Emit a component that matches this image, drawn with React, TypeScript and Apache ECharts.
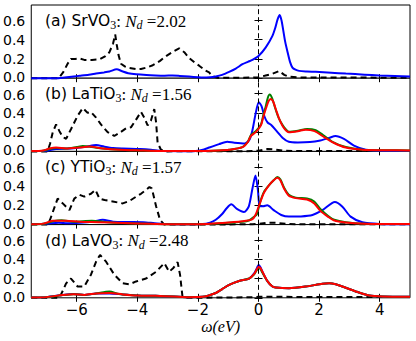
import React, { useEffect, useRef } from "react";
import * as echarts from "echarts";

const X_TICKS = [-6, -4, -2, 0, 2, 4];
const Y_TICKS = [0, 0.2, 0.4, 0.6];
const LETTERS = ["a", "b", "c", "d"];
const COMPOUNDS = ["SrVO", "LaTiO", "YTiO", "LaVO"];
const COMPOUND_SUBS = ["3", "3", "3", "3"];
const ND_VALUES = ["2.02", "1.56", "1.57", "2.48"];

// (a) SrVO3
const srvoDashed = [[-7.5,0],[-6.6,0],[-6.45,0.06],[-6.3,0.15],[-6.19,0.2],[-6.05,0.2],[-5.91,0.205],[-5.75,0.19],[-5.5,0.19],[-5.25,0.195],[-5.05,0.23],[-4.92,0.27],[-4.8,0.36],[-4.73,0.455],[-4.68,0.35],[-4.62,0.24],[-4.54,0.15],[-4.4,0.12],[-4.26,0.105],[-4.05,0.095],[-3.88,0.095],[-3.7,0.11],[-3.49,0.135],[-3.25,0.18],[-3.05,0.23],[-2.8,0.28],[-2.62,0.31],[-2.45,0.27],[-2.29,0.21],[-2.1,0.16],[-1.96,0.13],[-1.75,0.08],[-1.63,0.06],[-1.52,0.02],[-1.35,0.005],[-0.5,0.005],[0,0.01],[0.2,0.025],[0.45,0.045],[0.68,0.075],[0.85,0.035],[1.0,0.015],[1.4,0.008],[5,0.005]];
const srvoBlue = [[-7.5,0],[-6.6,0],[-6.4,0.007],[-6.1,0.018],[-5.9,0.025],[-5.6,0.036],[-5.36,0.048],[-5.1,0.06],[-4.92,0.07],[-4.68,0.093],[-4.5,0.072],[-4.3,0.052],[-4.04,0.04],[-3.7,0.032],[-3.4,0.028],[-3.1,0.026],[-2.84,0.028],[-2.6,0.024],[-2.29,0.017],[-2.0,0.01],[-1.85,0.007],[-1.6,0.01],[-1.41,0.018],[-1.2,0.035],[-0.97,0.066],[-0.75,0.1],[-0.53,0.145],[-0.35,0.17],[-0.2,0.19],[0,0.23],[0.24,0.32],[0.46,0.44],[0.56,0.53],[0.63,0.61],[0.7,0.655],[0.76,0.6],[0.81,0.51],[0.88,0.38],[0.96,0.27],[1.04,0.17],[1.12,0.11],[1.22,0.088],[1.34,0.076],[1.6,0.07],[1.89,0.066],[2.4,0.057],[2.88,0.048],[3.5,0.037],[3.98,0.028],[4.5,0.022],[5,0.017]];

// (b) LaTiO3
const latioDashed = [[-7.5,0],[-6.96,0],[-6.88,0.08],[-6.79,0.2],[-6.68,0.28],[-6.57,0.21],[-6.46,0.15],[-6.35,0.13],[-6.19,0.23],[-6.08,0.3],[-5.97,0.37],[-5.8,0.45],[-5.64,0.4],[-5.53,0.41],[-5.36,0.35],[-5.2,0.28],[-4.98,0.2],[-4.76,0.16],[-4.6,0.19],[-4.37,0.24],[-4.21,0.25],[-4.04,0.33],[-3.88,0.41],[-3.77,0.35],[-3.66,0.27],[-3.55,0.32],[-3.44,0.44],[-3.38,0.3],[-3.33,0.09],[-3.22,0.017],[-3.1,0],[-0.2,0.003],[0,0.008],[0.3,0.025],[0.55,0.02],[0.8,0.008],[1.2,0.004],[5,0.003]];
const latioBlue = [[-7.5,0.003],[-7.0,0.006],[-6.68,0.025],[-6.2,0.03],[-5.69,0.048],[-5.36,0.066],[-5.1,0.05],[-4.8,0.035],[-4.48,0.03],[-3.9,0.025],[-3.55,0.017],[-3.2,0.003],[-2.5,0.002],[-2.07,0.005],[-1.8,0.02],[-1.63,0.04],[-1.3,0.076],[-1.03,0.1],[-0.8,0.09],[-0.45,0.082],[-0.3,0.12],[-0.2,0.22],[-0.09,0.4],[0.01,0.51],[0.1,0.47],[0.2,0.36],[0.3,0.3],[0.42,0.275],[0.6,0.21],[0.8,0.14],[1.0,0.1],[1.3,0.093],[1.7,0.097],[2.0,0.11],[2.33,0.14],[2.54,0.16],[2.82,0.13],[3.15,0.06],[3.54,0.017],[4.1,0.005],[5,0.003]];
const latioGreen = [[-7.5,0.003],[-7.1,0.008],[-6.9,0.025],[-6.68,0.035],[-6.35,0.03],[-6.0,0.045],[-5.8,0.055],[-5.5,0.045],[-5.14,0.03],[-4.6,0.017],[-3.9,0.01],[-3.3,0.005],[-2.0,0.004],[-1.3,0.01],[-0.97,0.017],[-0.53,0.045],[-0.35,0.1],[-0.25,0.17],[-0.09,0.21],[0.08,0.28],[0.16,0.38],[0.24,0.47],[0.31,0.56],[0.37,0.59],[0.45,0.55],[0.56,0.44],[0.66,0.35],[0.8,0.27],[0.9,0.23],[1.0,0.205],[1.3,0.215],[1.6,0.232],[1.89,0.22],[2.11,0.175],[2.44,0.1],[2.88,0.045],[3.43,0.018],[4.2,0.012],[5,0.01]];
const latioRed = [[-7.5,0.003],[-7.1,0.01],[-6.9,0.03],[-6.68,0.04],[-6.35,0.03],[-5.91,0.04],[-5.58,0.05],[-5.14,0.03],[-4.6,0.017],[-3.9,0.01],[-3.3,0.005],[-2.0,0.004],[-1.3,0.01],[-0.97,0.017],[-0.53,0.045],[-0.35,0.1],[-0.25,0.16],[-0.09,0.2],[0.08,0.27],[0.16,0.36],[0.25,0.45],[0.33,0.52],[0.4,0.545],[0.48,0.52],[0.58,0.43],[0.68,0.34],[0.8,0.26],[0.9,0.22],[1.0,0.2],[1.3,0.21],[1.55,0.225],[1.85,0.21],[2.11,0.16],[2.48,0.09],[2.88,0.04],[3.43,0.017],[4.2,0.012],[5,0.01]];

// (c) YTiO3
const ytioDashed = [[-7.5,0],[-6.96,0],[-6.88,0.05],[-6.79,0.13],[-6.63,0.27],[-6.46,0.22],[-6.24,0.15],[-6.08,0.27],[-5.91,0.31],[-5.75,0.29],[-5.53,0.32],[-5.38,0.36],[-5.25,0.27],[-5.08,0.255],[-4.81,0.24],[-4.48,0.22],[-4.26,0.245],[-4.04,0.29],[-3.88,0.32],[-3.71,0.36],[-3.6,0.39],[-3.52,0.375],[-3.38,0.19],[-3.25,0.05],[-3.11,0],[-0.2,0.003],[0,0.008],[0.3,0.02],[0.6,0.018],[0.9,0.008],[1.3,0.004],[5,0.003]];
const ytioBlue = [[-7.5,0.005],[-7.0,0.01],[-6.6,0.02],[-6.3,0.015],[-5.9,0.02],[-5.5,0.03],[-5.14,0.05],[-4.8,0.03],[-4.3,0.027],[-3.8,0.025],[-3.43,0.015],[-3.0,0.005],[-2.3,0.003],[-1.85,0.005],[-1.6,0.02],[-1.41,0.05],[-1.2,0.11],[-1.05,0.17],[-0.9,0.21],[-0.7,0.16],[-0.48,0.13],[-0.32,0.19],[-0.2,0.375],[-0.1,0.51],[-0.02,0.36],[0.04,0.19],[0.15,0.19],[0.29,0.2],[0.5,0.15],[0.75,0.1],[1.0,0.083],[1.4,0.085],[1.78,0.1],[2.11,0.15],[2.52,0.234],[2.77,0.186],[3.04,0.083],[3.43,0.024],[4.0,0.007],[5,0.003]];
const ytioGreen = [[-7.5,0.003],[-7.1,0.008],[-6.79,0.035],[-6.5,0.045],[-6.1,0.03],[-5.5,0.04],[-5.0,0.025],[-4.5,0.017],[-3.6,0.008],[-3.0,0.004],[-2.0,0.004],[-1.19,0.015],[-0.53,0.03],[-0.3,0.045],[-0.15,0.08],[-0.05,0.11],[0.05,0.23],[0.18,0.34],[0.35,0.41],[0.5,0.46],[0.62,0.495],[0.72,0.47],[0.85,0.38],[1.0,0.31],[1.23,0.28],[1.6,0.27],[1.84,0.24],[2.05,0.16],[2.3,0.09],[2.5,0.05],[2.88,0.025],[3.5,0.01],[5,0.005]];
const ytioRed = [[-7.5,0.003],[-7.1,0.01],[-6.79,0.04],[-6.35,0.04],[-5.91,0.03],[-5.3,0.025],[-4.5,0.017],[-3.6,0.008],[-3.0,0.004],[-2.0,0.004],[-1.19,0.017],[-0.53,0.035],[-0.21,0.055],[-0.1,0.1],[0.02,0.2],[0.18,0.33],[0.35,0.41],[0.5,0.46],[0.62,0.486],[0.72,0.46],[0.85,0.37],[1.0,0.3],[1.23,0.275],[1.6,0.26],[1.84,0.22],[2.05,0.14],[2.3,0.08],[2.48,0.045],[2.88,0.022],[3.5,0.01],[5,0.005]];

// (d) LaVO3
const lavoDashed = [[-7.5,0],[-6.57,0],[-6.45,0.08],[-6.35,0.15],[-6.19,0.2],[-5.97,0.117],[-5.75,0.117],[-5.53,0.24],[-5.36,0.375],[-5.23,0.445],[-5.03,0.375],[-4.76,0.24],[-4.48,0.15],[-4.26,0.14],[-4.04,0.17],[-3.71,0.2],[-3.38,0.27],[-3.11,0.36],[-2.95,0.27],[-2.81,0.31],[-2.67,0.37],[-2.59,0.24],[-2.51,0.015],[-2.4,0],[-0.3,0.005],[0,0.01],[0.5,0.012],[1.5,0.008],[5,0.008]];
const lavoBlue = [[-7.5,0.003],[-7.0,0.007],[-6.46,0.03],[-6.1,0.04],[-5.75,0.03],[-5.36,0.045],[-4.92,0.045],[-4.48,0.035],[-4.0,0.024],[-3.4,0.02],[-2.8,0.014],[-2.3,0.007],[-1.85,0.01],[-1.41,0.05],[-1.2,0.09],[-0.97,0.135],[-0.64,0.175],[-0.31,0.2],[-0.15,0.25],[-0.05,0.31],[0.0,0.34],[0.06,0.32],[0.13,0.27],[0.3,0.17],[0.45,0.12],[0.57,0.107],[1.01,0.1],[1.56,0.117],[2.11,0.145],[2.33,0.15],[2.55,0.14],[2.77,0.117],[3.21,0.066],[3.65,0.024],[4.09,0.014],[5,0.01]];
const lavoGreen = [[-7.5,0.003],[-7.0,0.007],[-6.46,0.028],[-6.1,0.038],[-5.75,0.03],[-5.36,0.045],[-4.92,0.065],[-4.6,0.04],[-4.0,0.024],[-3.4,0.02],[-2.8,0.014],[-2.3,0.007],[-1.85,0.01],[-1.41,0.05],[-1.2,0.09],[-0.97,0.135],[-0.64,0.175],[-0.31,0.2],[-0.15,0.24],[-0.05,0.29],[0.0,0.31],[0.06,0.3],[0.13,0.26],[0.3,0.17],[0.45,0.12],[0.57,0.107],[1.01,0.1],[1.56,0.117],[2.11,0.145],[2.33,0.15],[2.55,0.14],[2.77,0.117],[3.21,0.066],[3.65,0.024],[4.09,0.014],[5,0.01]];
const lavoRed = [[-7.5,0.003],[-7.0,0.007],[-6.46,0.03],[-6.1,0.038],[-5.75,0.03],[-5.36,0.045],[-4.92,0.05],[-4.48,0.035],[-4.0,0.024],[-3.4,0.02],[-2.8,0.014],[-2.3,0.007],[-1.85,0.01],[-1.41,0.05],[-1.2,0.09],[-0.97,0.135],[-0.64,0.175],[-0.31,0.2],[-0.15,0.245],[-0.05,0.3],[0.0,0.32],[0.06,0.31],[0.13,0.27],[0.3,0.17],[0.45,0.12],[0.57,0.107],[1.01,0.1],[1.56,0.117],[2.11,0.145],[2.33,0.15],[2.55,0.14],[2.77,0.117],[3.21,0.066],[3.65,0.024],[4.09,0.014],[5,0.01]];

const DASHED = [srvoDashed, latioDashed, ytioDashed, lavoDashed];
const BLUE = [srvoBlue, latioBlue, ytioBlue, lavoBlue];
const GREEN = [null, latioGreen, ytioGreen, lavoGreen];
const RED = [null, latioRed, ytioRed, lavoRed];

export default function App() {
  const ref = useRef<HTMLDivElement>(null);
  useEffect(() => {
    if (!ref.current) return;
    const chart = echarts.init(ref.current, null, { renderer: "svg" });
    const left = 30, right = 6, top0 = 5, h = 73.2;
    const grids: any[] = [];
    const xAxes: any[] = [];
    const yAxes: any[] = [];
    const series: any[] = [];
    const titles: any[] = [];
    const tickStyle = { color: "#000", width: 1 };
    const xLabelFont = { fontFamily: "DejaVu Sans", fontSize: 15, color: "#000" };
    const yLabelFont = { fontFamily: "DejaVu Sans", fontSize: 14, color: "#000" };
    for (let i = 0; i < 4; i++) {
      const top = top0 + i * h;
      grids.push({ left, right, top, height: h, show: true, borderColor: "#000", borderWidth: 1, backgroundColor: "#fff" });
      const isLast = i === 3;
      xAxes.push({
        type: "value", gridIndex: i, min: -7.5, max: 5, position: "bottom",
        axisLine: { show: false }, splitLine: { show: false },
        axisTick: { show: true, inside: true, length: 4, lineStyle: tickStyle, customValues: X_TICKS },
        axisLabel: { show: isLast, margin: 5, ...xLabelFont, customValues: X_TICKS, formatter: (v: number) => (v < 0 ? "\u2212" + Math.abs(v) : String(v)) },
        name: isLast ? "ω(eV)" : "", nameLocation: "middle", nameGap: 20,
        nameTextStyle: { fontFamily: "Liberation Serif", fontStyle: "italic", fontSize: 16, color: "#000" },
      });
      xAxes.push({
        type: "value", gridIndex: i, min: -7.5, max: 5, position: "top",
        axisLine: { show: false }, splitLine: { show: false },
        axisTick: { show: true, inside: true, length: 4, lineStyle: tickStyle, customValues: X_TICKS },
        axisLabel: { show: false, customValues: X_TICKS },
      });
      yAxes.push({
        type: "value", gridIndex: i, min: 0, max: 0.76, position: "left",
        axisLine: { show: false }, splitLine: { show: false },
        axisTick: { show: true, inside: true, length: 4, lineStyle: tickStyle, customValues: Y_TICKS },
        axisLabel: {
          show: true, margin: 6, ...yLabelFont, customValues: Y_TICKS,
          formatter: (v: number) => (v === 0 ? `{lo|${v.toFixed(1)}}` : v > 0.5 ? `{hi|${v.toFixed(1)}}` : v.toFixed(1)),
          rich: {
            lo: { ...yLabelFont, padding: [0, 0, 2, 0] },
            hi: { ...yLabelFont, padding: [2, 0, 0, 0] },
          },
        },
      });
      yAxes.push({
        type: "value", gridIndex: i, min: 0, max: 0.76, position: "right",
        axisLine: { show: false }, splitLine: { show: false },
        axisTick: { show: true, inside: true, length: 4, lineStyle: tickStyle, customValues: Y_TICKS },
        axisLabel: { show: false, customValues: Y_TICKS },
      });
      const xi = i * 2, yi = i * 2;
      series.push({
        type: "line", xAxisIndex: xi, yAxisIndex: yi, data: DASHED[i], showSymbol: false, clip: false,
        lineStyle: { color: "#000", width: 2, type: [6, 4] }, z: 2,
        markLine: {
          silent: true, symbol: "none", label: { show: false },
          lineStyle: { color: "#000", width: 1, type: [5, 3] },
          data: [{ xAxis: 0 }],
        },
      });
      const colored: [any, string][] = [[BLUE[i], "#0000ff"], [GREEN[i], "#008000"], [RED[i], "#ff0000"]];
      colored.forEach(([d, c], k) => {
        if (!d) return;
        series.push({
          type: "line", xAxisIndex: xi, yAxisIndex: yi, data: d, showSymbol: false, clip: false,
          smooth: 0.25, lineStyle: { color: c, width: 2 }, z: 3 + k,
        });
      });
      const base = { color: "#000", fontWeight: "normal" };
      titles.push({
        left: 45, top: top + 6, padding: 0,
        text: `{s|(${LETTERS[i]}) ${COMPOUNDS[i]}}{sub|${COMPOUND_SUBS[i]}}{m|: }{i|N}{isub|d}{m| =${ND_VALUES[i]}}`,
        textStyle: {
          fontWeight: "normal",
          rich: {
            s: { ...base, fontFamily: "DejaVu Sans", fontSize: 15.5, lineHeight: 20 },
            sub: { ...base, fontFamily: "Liberation Serif", fontSize: 12, lineHeight: 10, verticalAlign: "bottom" },
            m: { ...base, fontFamily: "Liberation Serif", fontSize: 17, lineHeight: 20 },
            i: { ...base, fontFamily: "Liberation Serif", fontStyle: "italic", fontSize: 17, lineHeight: 20 },
            isub: { ...base, fontFamily: "Liberation Serif", fontStyle: "italic", fontSize: 12, lineHeight: 10, verticalAlign: "bottom" },
          },
        },
      });
    }
    chart.setOption({
      animation: false,
      backgroundColor: "#fff",
      title: titles,
      grid: grids,
      xAxis: xAxes,
      yAxis: yAxes,
      series,
    });
    return () => chart.dispose();
  }, []);
  return <div ref={ref} style={{ position: "absolute", left: 0, top: 0, width: 416, height: 341 }} />;
}
